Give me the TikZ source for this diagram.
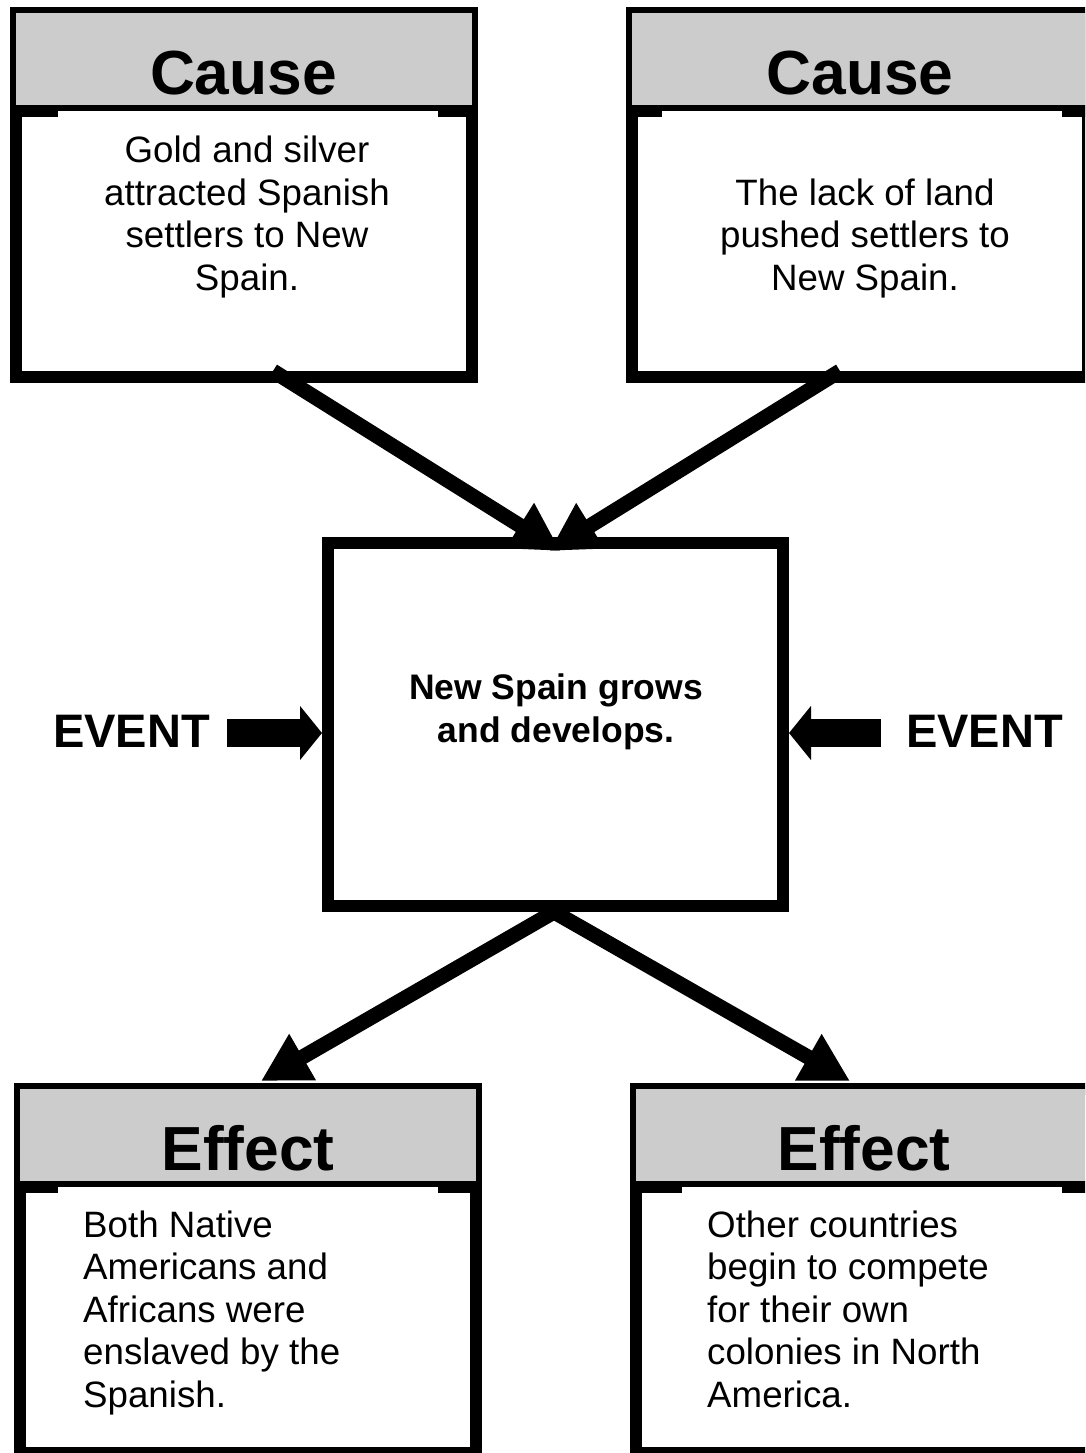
\documentclass[tikz,border=0pt]{standalone}
\usepackage{fontspec}
\setmainfont{Liberation Sans}
\usetikzlibrary{arrows.meta,calc}
\definecolor{hdrgray}{RGB}{204,204,204}
\newcommand\mkheader[3]{%
  \fill[hdrgray] ($(#1.north west)+(6,6)$) rectangle ($(#1.north east)+(-6,98)$);
  \fill[black] ($(#1.north west)+(6,98)$) rectangle ($(#1.north east)+(-6,104)$);
  \fill[black] ($(#1.north west)+(6,104)$) rectangle ($(#1.north west)+(6+#2,110)$);
  \fill[black] ($(#1.north east)+(-6-#3,104)$) rectangle ($(#1.north east)+(-6,110)$);
}
\begin{document}
\begin{tikzpicture}[x=1pt,y=-1pt,
  box/.style={rectangle,draw=black,line width=12pt,fill=white,minimum width=456pt,minimum height=364pt,inner sep=0pt},
  hdr/.style={font=\fontsize{62.3}{70}\selectfont\bfseries,anchor=base,inner sep=0pt},
  body/.style={font=\fontsize{36.7}{42.5}\selectfont,inner sep=0pt,anchor=base},
  mid/.style={font=\fontsize{35.5}{43}\selectfont\bfseries,inner sep=0pt,anchor=base,align=center},
  evt/.style={font=\fontsize{47}{50}\selectfont\bfseries,inner sep=0pt,anchor=base},
  conn/.style={line width=15pt,-{Triangle[width=50pt,length=48pt]}},
  evarrow/.style={line width=28pt,-{Triangle[width=53pt,length=22pt]}}
]
\useasboundingbox (0,0) rectangle (1085,1453);
\clip (0,0) rectangle (1085,1453);
\fill[white] (0,0) rectangle (1085,1453);

% boxes
\node[box] (tl) at (243.5,195) {};
\node[box] (tr) at (860,195) {};
\node[box,minimum width=455pt,minimum height=363pt] (c) at (555.5,724.5) {};
\node[box] (bl) at (248,1271) {};
\node[box] (br) at (864,1271) {};

\mkheader{tl}{42}{34}
\mkheader{tr}{30}{26}
\mkheader{bl}{38}{38}
\mkheader{br}{46}{30}

% headers
\node[hdr] (tlh) at (243.5,95) {Cause};
\node[hdr] (trh) at (860,95) {Cause};
\node[hdr] (blh) at (248,1170) {Effect};
\node[hdr] (brh) at (864,1170) {Effect};

% body texts (base anchor = last line baseline)
\node[body,align=center] (tlt) at (247,290) {Gold and silver\\attracted Spanish\\settlers to New\\Spain.};
\node[body,align=center] (trt) at (865,290) {The lack of land\\pushed settlers to\\New Spain.};
\node[body,align=left,anchor=base west] (blt) at (83,1407) {Both Native\\Americans and\\Africans were\\enslaved by the\\Spanish.};
\node[body,align=left,anchor=base west] (brt) at (707,1407) {Other countries\\begin to compete\\for their own\\colonies in North\\America.};
\node[mid] (ct) at (556,742) {New Spain grows\\and develops.};

% events
\node[evt] (evtL) at (131.5,747) {EVENT};
\node[evt] (evtR) at (984.5,747) {EVENT};
\coordinate (evL) at (227,733);
\coordinate (evR) at (881,733);
\draw[evarrow] (evL) -- (evL -| c.west);
\draw[evarrow] (evR) -- (evR -| c.east);

% connectors
\draw[conn] ($(tl.south)+(29.5,-12)$) -- ($(c.north)+(5,14)$);
\draw[conn] ($(tr.south)+(-20,-12)$) -- ($(c.north)+(-6,14)$);
\draw[conn] ($(c.south)+(-1.5,0)$) -- ($(bl.north)+(13,-2)$);
\draw[conn] ($(c.south)+(-1.5,0)$) -- ($(br.north)+(-14,-2)$);
\end{tikzpicture}
\end{document}
